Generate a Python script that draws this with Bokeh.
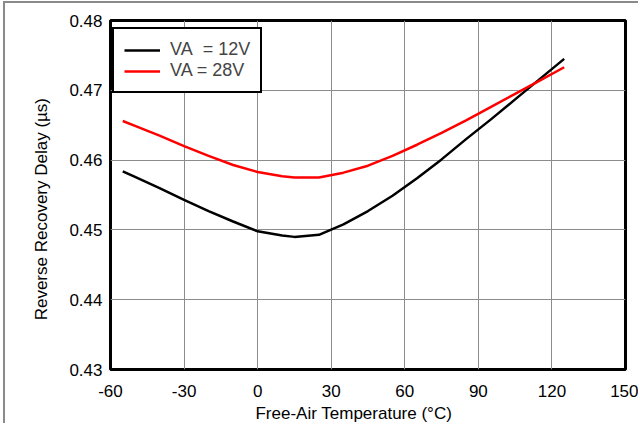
from bokeh.plotting import figure
from bokeh.models import FixedTicker, Legend, LegendItem
from bokeh.embed import file_html
from bokeh.resources import INLINE

# Data
temp = [-55, -50, -40, -30, -20, -10, 0, 10, 15, 25, 35, 45, 55, 65, 75, 85, 95, 105, 115, 125]
delay_12v = [0.4584, 0.4576, 0.4560, 0.4543, 0.4527, 0.4512, 0.4498, 0.4492, 0.4490, 0.4493,
             0.4508, 0.4527, 0.4549, 0.4574, 0.4601, 0.4630, 0.4658, 0.4687, 0.4716, 0.4745]
delay_28v = [0.4656, 0.4649, 0.4635, 0.4620, 0.4606, 0.4593, 0.4583, 0.4577, 0.4575, 0.4575,
             0.4582, 0.4592, 0.4606, 0.4622, 0.4639, 0.4657, 0.4676, 0.4695, 0.4714, 0.4733]
x_ticks = [-60, -30, 0, 30, 60, 90, 120, 150]
x_tick_labels = ["-60", "-30", "0", "30", "60", "90", "120", "150"]
y_ticks = [0.43, 0.44, 0.45, 0.46, 0.47, 0.48]
y_tick_labels = ["0.43", "0.44", "0.45", "0.46", "0.47", "0.48"]
series_labels = ["VA\u00a0 = 12V", "VA = 28V"]
x_title = "Free-Air Temperature (°C)"
y_title = "Reverse Recovery Delay (µs)"

FONT = "Liberation Sans"
NBSP = "\u00a0"

p = figure(width=635, height=422, x_range=(-60, 150), y_range=(0.43, 0.48),
           output_backend="svg", toolbar_location=None,
           min_border_left=105, min_border_right=15, min_border_top=17, min_border_bottom=55)
p.styles = {"margin-left": "3px", "margin-top": "1px",
            "border-top": "2px solid #8a8a8a", "border-left": "2px solid #8a8a8a"}

p.outline_line_color = "black"
p.outline_line_width = 3
p.outline_line_alpha = 1.0
p.background_fill_color = "white"
p.border_fill_color = "white"

p.xaxis.ticker = FixedTicker(ticks=x_ticks)
p.yaxis.ticker = FixedTicker(ticks=y_ticks)
p.xaxis.major_label_overrides = {v: s for v, s in zip(x_ticks, x_tick_labels)}
p.yaxis.major_label_overrides = {v: s for v, s in zip(y_ticks, y_tick_labels)}

for ax in (p.xaxis, p.yaxis):
    ax.axis_line_color = None
    ax.major_tick_line_color = None
    ax.minor_tick_line_color = None
    ax.major_tick_out = 0
    ax.major_tick_in = 0
    ax.major_label_text_font = FONT
    ax.major_label_text_font_size = "17px"
    ax.major_label_text_color = "black"
    ax.axis_label_text_font = FONT
    ax.axis_label_text_font_size = "17px"
    ax.axis_label_text_font_style = "normal"
    ax.axis_label_text_color = "black"

# trailing non-breaking spaces shift the centred titles as in the reference
p.xaxis.axis_label = x_title + NBSP * 6
p.yaxis.axis_label = y_title + NBSP * 6
p.xaxis.major_label_standoff = 15
p.xaxis.axis_label_standoff = 4
p.yaxis.major_label_standoff = 8
p.yaxis.axis_label_standoff = 15

p.xgrid.grid_line_color = "#8c8c8c"
p.ygrid.grid_line_color = "#8c8c8c"
p.xgrid.grid_line_width = 1
p.ygrid.grid_line_width = 1

r1 = p.line(temp, delay_12v, line_color="black", line_width=2.5, line_join="round")
r2 = p.line(temp, delay_28v, line_color="#ff0000", line_width=2.5, line_join="round")

legend = Legend(items=[LegendItem(label=series_labels[0], renderers=[r1]),
                       LegendItem(label=series_labels[1], renderers=[r2])],
                location=(2, 276), margin=0, padding=10, spacing=0,
                glyph_width=36, glyph_height=20, label_height=20, label_standoff=10,
                label_text_font=FONT, label_text_font_size="18px",
                border_line_color="black", border_line_width=2, border_line_alpha=1.0,
                background_fill_color="white", background_fill_alpha=1.0)
p.add_layout(legend, "center")

open("out.html", "w").write(file_html(p, INLINE))
